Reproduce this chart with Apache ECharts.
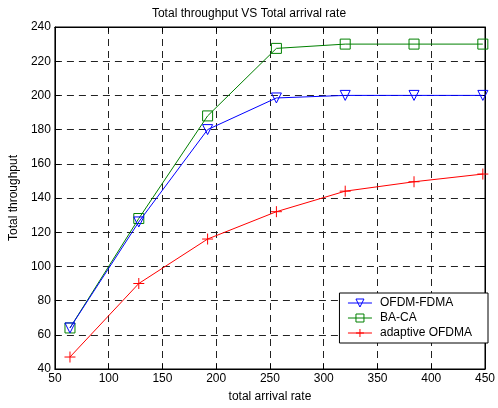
<!DOCTYPE html>
<html>
<head>
<meta charset="utf-8">
<script src="https://cdn.jsdelivr.net/npm/echarts@6/dist/echarts.min.js"></script>
<style>
  html, body { margin: 0; padding: 0; background: #fff; }
  #chart { width: 498px; height: 408px; }
</style>
</head>
<body>
<div id="chart"></div>
<script>
// arrival rates and throughput per scheme
const arrivalRate = [64, 128, 192, 256, 320, 384, 448];
const ofdmFdma = [64, 126, 180, 198.5, 200, 200, 200];
const baCa = [64, 128, 188, 227.5, 230, 230, 230];
const adaptiveOfdma = [47, 90, 116, 132, 144, 149.5, 154];

const font = 'Liberation Sans, Arial, sans-serif';

function pairs(ys) {
    return arrivalRate.map((x, i) => [x, ys[i]]);
}

const chart = echarts.init(document.getElementById('chart'));
const gridLine = { show: true, lineStyle: { color: '#222', type: [7, 5], width: 1 } };
const tickIn = { show: true, inside: true, length: 5, lineStyle: { color: '#000' } };

chart.setOption({
    animation: false,
    backgroundColor: '#fff',
    title: {
        text: 'Total throughput VS Total arrival rate',
        left: 'center',
        top: 3,
        textStyle: { fontFamily: font, fontSize: 12, fontWeight: 'normal', color: '#000' }
    },
    grid: { left: 54, right: 10, top: 27, bottom: 38, show: true, borderColor: '#000', borderWidth: 1 },
    legend: {
        orient: 'vertical',
        right: 10,
        top: 293,
        itemWidth: 24,
        itemHeight: 10,
        itemGap: 3,
        padding: [4, 16, 4, 8],
        backgroundColor: '#fff',
        borderColor: '#000',
        borderWidth: 1,
        borderRadius: 0,
        lineStyle: { width: 1 },
        itemStyle: { borderWidth: 1 },
        textStyle: { fontFamily: font, fontSize: 12, color: '#000', padding: [0, 0, 0, 3] },
        data: ['OFDM-FDMA', 'BA-CA', 'adaptive OFDMA']
    },
    xAxis: [{
        type: 'value', min: 50, max: 450, interval: 50,
        name: 'total arrival rate', nameLocation: 'middle', nameGap: 22,
        nameTextStyle: { fontFamily: font, fontSize: 12, color: '#000' },
        axisLine: { show: true, lineStyle: { color: '#000' } },
        axisTick: tickIn,
        axisLabel: { fontFamily: font, fontSize: 12, color: '#000', margin: 4 },
        splitLine: gridLine
    }, {
        type: 'value', min: 50, max: 450, interval: 50, position: 'top',
        axisLine: { show: true, lineStyle: { color: '#000' } },
        axisTick: tickIn, axisLabel: { show: false }, splitLine: { show: false }
    }],
    yAxis: [{
        type: 'value', min: 40, max: 240, interval: 20,
        name: 'Total throughput', nameLocation: 'middle', nameGap: 28,
        nameTextStyle: { fontFamily: font, fontSize: 12, color: '#000' },
        axisLine: { show: true, lineStyle: { color: '#000' } },
        axisTick: tickIn,
        axisLabel: { fontFamily: font, fontSize: 12, color: '#000', margin: 4 },
        splitLine: gridLine
    }, {
        type: 'value', min: 40, max: 240, interval: 20, position: 'right',
        axisLine: { show: true, lineStyle: { color: '#000' } },
        axisTick: tickIn, axisLabel: { show: false }, splitLine: { show: false }
    }],
    series: [
        {
            name: 'OFDM-FDMA', type: 'line', data: pairs(ofdmFdma),
            symbol: 'triangle', symbolRotate: 180, symbolSize: 10, showAllSymbol: true,
            lineStyle: { color: '#0000ff', width: 1 },
            itemStyle: { color: 'rgba(0,0,0,0)', borderColor: '#0000ff', borderWidth: 1 },
            z: 3
        },
        {
            name: 'BA-CA', type: 'line', data: pairs(baCa),
            symbol: 'rect', symbolSize: 10, showAllSymbol: true,
            lineStyle: { color: '#008000', width: 1 },
            itemStyle: { color: 'rgba(0,0,0,0)', borderColor: '#008000', borderWidth: 1 },
            z: 2
        },
        {
            name: 'adaptive OFDMA', type: 'line', data: pairs(adaptiveOfdma),
            symbol: 'path://M0,5L10,5M5,0L5,10', symbolSize: 11, showAllSymbol: true,
            lineStyle: { color: '#ff0000', width: 1 },
            itemStyle: { color: 'rgba(0,0,0,0)', borderColor: '#ff0000', borderWidth: 1 },
            z: 4
        }
    ]
});
</script>
</body>
</html>
